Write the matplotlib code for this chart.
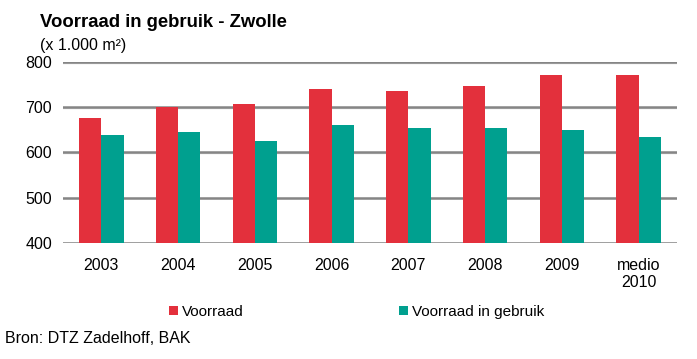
import matplotlib.pyplot as plt
import numpy as np

plt.rcParams["font.family"] = ["Liberation Sans", "DejaVu Sans"]

categories = ["2003", "2004", "2005", "2006", "2007", "2008", "2009", "medio\n2010"]
voorraad = [677, 700, 707, 741, 737, 748, 772, 772]
in_gebruik = [639, 645, 626, 661, 653, 655, 650, 634]

red = "#E3303C"
teal = "#00A08F"
grid = "#858585"

fig = plt.figure(figsize=(6.97, 3.59), dpi=100)
ax = fig.add_axes([0.0904, 0.324, 0.881, 0.503])

x = np.arange(len(categories))
w = 0.29
ax.bar(x - w / 2, voorraad, w, color=red, label="Voorraad", zorder=3)
ax.bar(x + w / 2, in_gebruik, w, color=teal, label="Voorraad in gebruik", zorder=3)

ax.set_ylim(400, 800)
ax.set_xlim(-0.5, len(categories) - 0.5)
ax.set_yticks([400, 500, 600, 700, 800])
ax.set_xticks(x)
ax.set_xticklabels(categories)
ax.tick_params(length=0, labelsize=11.5, pad=8)
ax.tick_params(axis="x", pad=11)
for s in ax.spines.values():
    s.set_visible(False)
for v in [400, 500, 600, 700, 800]:
    ax.axhline(v, color=grid, lw=1.8, zorder=2)
    ax.axhline(v - 0.9, color="#d8d8d8", lw=1, zorder=1)

fig.text(0.057, 0.937, "Voorraad in gebruik - Zwolle", fontsize=13.3, fontweight="bold",
         va="center", ha="left")
fig.text(0.057, 0.872, "(x 1.000 m²)", fontsize=11.5, va="center", ha="left")
fig.text(0.007, 0.058, "Bron: DTZ Zadelhoff, BAK", fontsize=11.5, va="center", ha="left")

fig.legend(loc="center left", bbox_to_anchor=(0.242, 0.131), ncol=2, frameon=False,
           fontsize=11, handlelength=0.6, handleheight=0.6, handletextpad=0.25,
           columnspacing=10.2, borderpad=0, borderaxespad=0)

fig.savefig("out.png", dpi=100)
